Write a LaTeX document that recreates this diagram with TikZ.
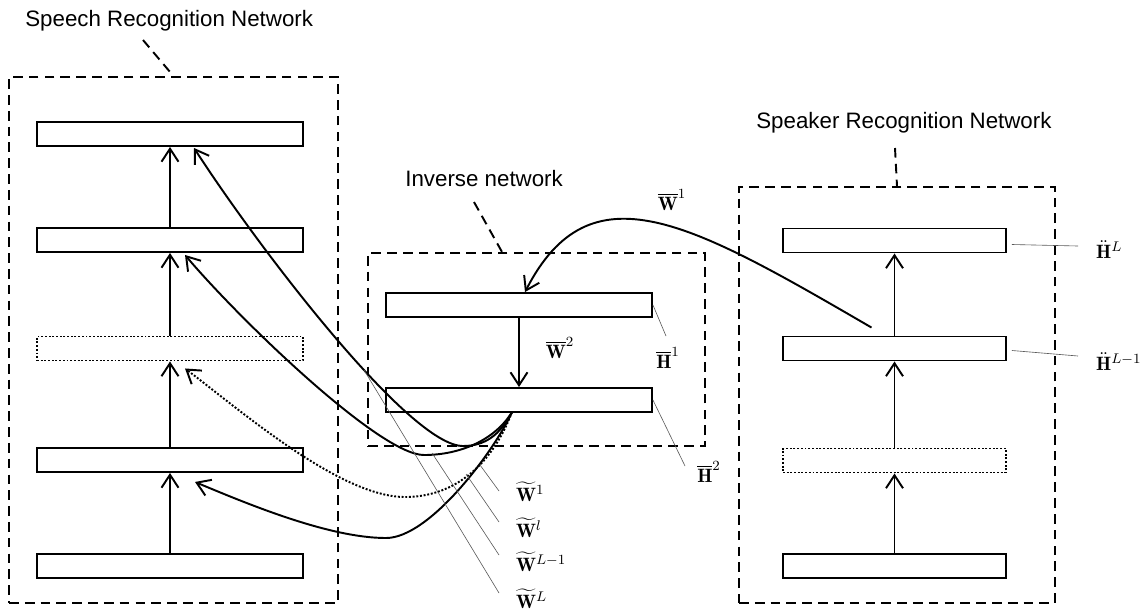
\documentclass[tikz,border=0pt]{standalone}
\usepackage{amsmath,amssymb}
\usepackage{fontspec}
\newfontfamily\titlefont{Liberation Sans}
\usepackage{tikz}
\usetikzlibrary{calc, arrows.meta}

\tikzset{
  layer/.style={draw, line width=1.1pt, minimum width=5.32cm, minimum height=0.48cm, inner sep=0pt},
  hidden/.style={layer, densely dotted},
  netbox/.style={draw, line width=1.1pt, dash pattern=on 5.5pt off 3.5pt, inner sep=0pt},
  tagline/.style={line width=1.1pt, dash pattern=on 5.5pt off 3.5pt},
  title/.style={font=\titlefont\fontsize{12.7}{15}\selectfont, inner sep=0pt},
  wlabel/.style={font=\fontsize{11}{13}\selectfont, inner sep=1pt},
  up/.style={line width=1.1pt, -{Straight Barb[length=2.6mm, width=3.4mm, line width=1.1pt]}},
  feed/.style={line width=1.1pt, -{Straight Barb[length=2.6mm, width=3.4mm, line width=1.1pt]}},
  leader/.style={gray!70!black, line width=0.35pt}
}

\begin{document}
\begin{tikzpicture}[x=0.02cm, y=-0.02cm]
\useasboundingbox (0,0) rectangle (1146,613);

% group boxes and their titles
\node [netbox, minimum width=6.58cm, minimum height=10.52cm] (speechbox) at (173.5,340) {};
\node [netbox, minimum width=6.74cm, minimum height=3.86cm] (invbox) at (536.5,349.5) {};
\node [netbox, minimum width=6.32cm, minimum height=8.32cm] (spkbox) at (897,395) {};

\node [title, anchor=base west] (speechtitle) at (25,26) {Speech Recognition Network};
\node [title, anchor=base west] (invtitle) at (405,186) {Inverse network};
\node [title, anchor=base west] (spktitle) at (756,128) {Speaker Recognition Network};
\coordinate (speechtag) at (143,40);
\coordinate (invtag) at (474,202);
\coordinate (spktag) at (895,148);
\draw [tagline] (speechtag) -- (speechbox.north);
\draw [tagline] (invtag) -- ($(invbox.north west)+(135,0)$);
\draw [tagline] (spktag) -- (spkbox.north);

% speech recognition layers
\node [layer] (sTop) at (170,134) {};
\node [layer] (sNext) at (170,240) {};
\node [hidden] (sMid) at (170,348.5) {};
\node [layer] (sLow) at (170,460) {};
\node [layer] (sIn) at (170,566) {};
\draw [up] (sIn) -- (sLow);
\draw [up] (sLow) -- (sMid);
\draw [up] (sMid) -- (sNext);
\draw [up] (sNext) -- (sTop);

% inverse network
\node [layer] (h1) at (519,305) {};
\node [layer] (h2) at (519,400) {};
\draw [up] (h1) -- (h2);
\node [wlabel] (wbar2) at (560,348) {$\overline{\mathbf{W}}^{2}$};
\node [wlabel] (hbar1) at (668,358) {$\overline{\mathbf{H}}^{1}$};
\node [wlabel] (hbar2) at (709,472) {$\overline{\mathbf{H}}^{2}$};
\coordinate (hb1end) at (666,336);
\coordinate (hb2end) at (685,466);
\draw [leader] (h1.east) -- (hb1end);
\draw [leader] (h2.east) -- (hb2end);

% speaker recognition layers
\node [layer, minimum width=4.46cm] (kTop) at (894.5,240.5) {};
\node [layer, minimum width=4.46cm] (kNext) at (894.5,348.5) {};
\node [hidden, minimum width=4.46cm] (kMid) at (894.5,460.5) {};
\node [layer, minimum width=4.46cm] (kIn) at (894.5,566) {};
\draw [up] (kIn) -- (kMid);
\draw [up] (kMid) -- (kNext);
\draw [up] (kNext) -- (kTop);
\node [wlabel, anchor=west] (hddL) at (1094,250) {$\ddot{\mathbf{H}}^{L}$};
\node [wlabel, anchor=west] (hddLm) at (1094,362) {$\ddot{\mathbf{H}}^{L-1}$};
\coordinate (hdLend) at (1078,246);
\coordinate (hdLmend) at (1078,356);
\draw [leader] ($(kTop.east)+(5,4)$) -- (hdLend);
\draw [leader] ($(kNext.east)+(5,2)$) -- (hdLmend);

% speaker output back into the inverse network
\draw [feed] ($(kNext.north)+(-23,-8)$) .. controls (690,222) and (590,165) .. ($(h1.north)+(6,0)$);
\node [wlabel] (wbar1) at (672,200) {$\overline{\mathbf{W}}^{1}$};

% inverse weights fed into the speech layers
\coordinate (src) at (512,412);
\draw [feed] (src) .. controls (500,435) and (485,446) .. (463,446) .. controls (410,446) and (260,250) .. ($(sTop.south)+(24,1)$);
\draw [feed] (src) .. controls (495,440) and (460,455) .. (424,455) .. controls (380,455) and (240,320) .. ($(sNext.south)+(15,2)$);
\draw [feed, densely dotted] (src) .. controls (490,470) and (450,497) .. (405,497) .. controls (340,497) and (240,410) .. ($(sMid.south)+(15,7)$);
\draw [feed] (src) .. controls (495,450) and (430,538) .. (386,538) .. controls (330,538) and (250,505) .. ($(sLow.south)+(25,9)$);

\coordinate (c1) at (480,465);
\coordinate (cl) at (466,474);
\coordinate (cLm) at (432,453);
\coordinate (cL) at (364,370);
\coordinate (e1) at (499,491);
\coordinate (el) at (499,522);
\coordinate (eLm) at (499,555);
\coordinate (eL) at (499,593);
\draw [leader] (c1) -- (e1);
\draw [leader] (cl) -- (el);
\draw [leader] (cLm) -- (eLm);
\draw [leader] (cL) -- (eL);
\node [wlabel, anchor=west] (wt1) at (514,492) {$\widetilde{\mathbf{W}}^{1}$};
\node [wlabel, anchor=west] (wtl) at (514,528) {$\widetilde{\mathbf{W}}^{l}$};
\node [wlabel, anchor=west] (wtLm) at (514,562) {$\widetilde{\mathbf{W}}^{L-1}$};
\node [wlabel, anchor=west] (wtL) at (514,599) {$\widetilde{\mathbf{W}}^{L}$};
\end{tikzpicture}
\end{document}
